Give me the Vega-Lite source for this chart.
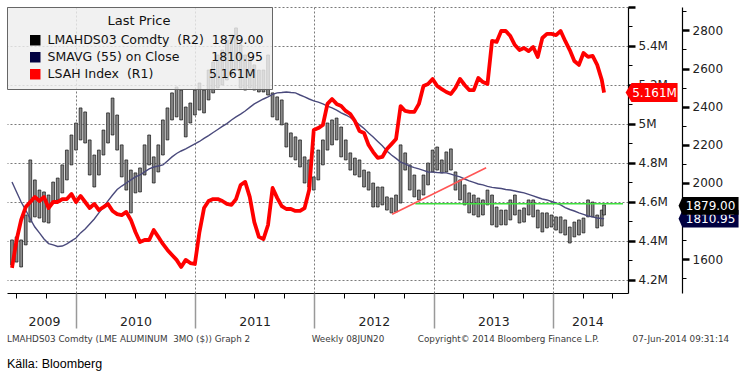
{
  "$schema": "https://vega.github.io/schema/vega-lite/v6.json",
  "width": 621,
  "height": 286,
  "autosize": {"type": "none"},
  "padding": {"left": 7, "top": 7, "right": 123, "bottom": 83},
  "background": "white",
  "config": {
    "view": {"stroke": null},
    "font": "DejaVu Sans",
    "axis": {"labelFont": "DejaVu Sans", "title": null}
  },
  "title": {
    "text": "LMAHDS03 Comdty (LME ALUMINUM\u00a0 3MO ($)) Graph 2\u00a0\u00a0\u00a0\u00a0\u00a0\u00a0\u00a0\u00a0\u00a0\u00a0\u00a0\u00a0\u00a0\u00a0\u00a0\u00a0\u00a0\u00a0\u00a0\u00a0\u00a0\u00a0Weekly 08JUN20\u00a0\u00a0\u00a0\u00a0\u00a0\u00a0\u00a0\u00a0\u00a0\u00a0\u00a0\u00a0Copyright© 2014 Bloomberg Finance L.P.\u00a0\u00a0\u00a0\u00a0\u00a0\u00a0\u00a0\u00a0\u00a0\u00a0\u00a0\u00a007-Jun-2014 09:31:14",
    "subtitle": "Källa: Bloomberg",
    "orient": "bottom",
    "anchor": "start",
    "frame": "group",
    "offset": 6,
    "font": "DejaVu Sans",
    "fontSize": 8.8,
    "fontWeight": "normal",
    "color": "#3a3a3a",
    "subtitleFont": "Liberation Sans",
    "subtitleFontSize": 12.5,
    "subtitleColor": "#000000",
    "subtitlePadding": 14
  },
  "datasets": {
    "weekly": [
      {"date": "2009-06-19", "high": 1700, "low": 1569, "sma": 2004, "lsah": 4262000},
      {"date": "2009-07-03", "high": 1716, "low": 1584, "sma": 1952, "lsah": 4405000},
      {"date": "2009-07-17", "high": 1700, "low": 1558, "sma": 1899, "lsah": 4508000},
      {"date": "2009-07-31", "high": 1831, "low": 1674, "sma": 1857, "lsah": 4574000},
      {"date": "2009-08-14", "high": 2120, "low": 1794, "sma": 1810, "lsah": 4600000},
      {"date": "2009-08-28", "high": 2015, "low": 1821, "sma": 1768, "lsah": 4626000},
      {"date": "2009-09-11", "high": 1962, "low": 1815, "sma": 1737, "lsah": 4605000},
      {"date": "2009-09-25", "high": 1952, "low": 1794, "sma": 1705, "lsah": 4626000},
      {"date": "2009-10-09", "high": 1936, "low": 1789, "sma": 1681, "lsah": 4569000},
      {"date": "2009-10-23", "high": 2004, "low": 1894, "sma": 1674, "lsah": 4600000},
      {"date": "2009-11-06", "high": 2025, "low": 1910, "sma": 1666, "lsah": 4600000},
      {"date": "2009-11-20", "high": 2094, "low": 1947, "sma": 1668, "lsah": 4615000},
      {"date": "2009-12-04", "high": 2172, "low": 2015, "sma": 1679, "lsah": 4615000},
      {"date": "2009-12-18", "high": 2251, "low": 2094, "sma": 1695, "lsah": 4641000},
      {"date": "2010-01-01", "high": 2314, "low": 2172, "sma": 1710, "lsah": 4600000},
      {"date": "2010-01-15", "high": 2393, "low": 2225, "sma": 1737, "lsah": 4631000},
      {"date": "2010-01-29", "high": 2372, "low": 2209, "sma": 1758, "lsah": 4600000},
      {"date": "2010-02-12", "high": 2225, "low": 2041, "sma": 1784, "lsah": 4569000},
      {"date": "2010-02-26", "high": 2146, "low": 1978, "sma": 1810, "lsah": 4590000},
      {"date": "2010-03-12", "high": 2172, "low": 2041, "sma": 1842, "lsah": 4559000},
      {"date": "2010-03-26", "high": 2277, "low": 2146, "sma": 1873, "lsah": 4574000},
      {"date": "2010-04-09", "high": 2367, "low": 2209, "sma": 1905, "lsah": 4590000},
      {"date": "2010-04-23", "high": 2445, "low": 2251, "sma": 1936, "lsah": 4554000},
      {"date": "2010-05-07", "high": 2356, "low": 2172, "sma": 1965, "lsah": 4538000},
      {"date": "2010-05-21", "high": 2199, "low": 2031, "sma": 1983, "lsah": 4533000},
      {"date": "2010-06-04", "high": 2120, "low": 1962, "sma": 1999, "lsah": 4549000},
      {"date": "2010-06-18", "high": 2067, "low": 1842, "sma": 2015, "lsah": 4508000},
      {"date": "2010-07-02", "high": 2052, "low": 1947, "sma": 2031, "lsah": 4446000},
      {"date": "2010-07-16", "high": 2078, "low": 1952, "sma": 2041, "lsah": 4395000},
      {"date": "2010-07-30", "high": 2199, "low": 2041, "sma": 2057, "lsah": 4405000},
      {"date": "2010-08-13", "high": 2251, "low": 2094, "sma": 2073, "lsah": 4405000},
      {"date": "2010-08-27", "high": 2136, "low": 1999, "sma": 2083, "lsah": 4456000},
      {"date": "2010-09-10", "high": 2199, "low": 2057, "sma": 2088, "lsah": 4421000},
      {"date": "2010-09-24", "high": 2330, "low": 2146, "sma": 2094, "lsah": 4385000},
      {"date": "2010-10-08", "high": 2393, "low": 2225, "sma": 2115, "lsah": 4354000},
      {"date": "2010-10-22", "high": 2472, "low": 2330, "sma": 2136, "lsah": 4328000},
      {"date": "2010-11-05", "high": 2503, "low": 2346, "sma": 2154, "lsah": 4303000},
      {"date": "2010-11-19", "high": 2487, "low": 2330, "sma": 2167, "lsah": 4267000},
      {"date": "2010-12-03", "high": 2398, "low": 2241, "sma": 2178, "lsah": 4303000},
      {"date": "2010-12-17", "high": 2419, "low": 2314, "sma": 2191, "lsah": 4287000},
      {"date": "2010-12-31", "high": 2487, "low": 2356, "sma": 2204, "lsah": 4282000},
      {"date": "2011-01-14", "high": 2524, "low": 2382, "sma": 2217, "lsah": 4446000},
      {"date": "2011-01-28", "high": 2487, "low": 2367, "sma": 2233, "lsah": 4569000},
      {"date": "2011-02-11", "high": 2592, "low": 2435, "sma": 2248, "lsah": 4605000},
      {"date": "2011-02-25", "high": 2634, "low": 2472, "sma": 2264, "lsah": 4615000},
      {"date": "2011-03-11", "high": 2671, "low": 2498, "sma": 2280, "lsah": 4615000},
      {"date": "2011-03-25", "high": 2697, "low": 2514, "sma": 2296, "lsah": 4605000},
      {"date": "2011-04-08", "high": 2750, "low": 2540, "sma": 2311, "lsah": 4590000},
      {"date": "2011-04-22", "high": 2776, "low": 2566, "sma": 2330, "lsah": 4585000},
      {"date": "2011-05-06", "high": 2813, "low": 2592, "sma": 2346, "lsah": 4615000},
      {"date": "2011-05-20", "high": 2724, "low": 2498, "sma": 2361, "lsah": 4687000},
      {"date": "2011-06-03", "high": 2671, "low": 2487, "sma": 2377, "lsah": 4703000},
      {"date": "2011-06-17", "high": 2655, "low": 2498, "sma": 2396, "lsah": 4626000},
      {"date": "2011-07-01", "high": 2619, "low": 2487, "sma": 2414, "lsah": 4497000},
      {"date": "2011-07-15", "high": 2592, "low": 2477, "sma": 2427, "lsah": 4421000},
      {"date": "2011-07-29", "high": 2592, "low": 2477, "sma": 2440, "lsah": 4410000},
      {"date": "2011-08-12", "high": 2671, "low": 2461, "sma": 2451, "lsah": 4482000},
      {"date": "2011-08-26", "high": 2472, "low": 2346, "sma": 2464, "lsah": 4672000},
      {"date": "2011-09-09", "high": 2451, "low": 2330, "sma": 2472, "lsah": 4621000},
      {"date": "2011-09-23", "high": 2435, "low": 2304, "sma": 2474, "lsah": 4579000},
      {"date": "2011-10-07", "high": 2314, "low": 2188, "sma": 2477, "lsah": 4564000},
      {"date": "2011-10-21", "high": 2262, "low": 2136, "sma": 2474, "lsah": 4564000},
      {"date": "2011-11-04", "high": 2241, "low": 2120, "sma": 2472, "lsah": 4554000},
      {"date": "2011-11-18", "high": 2225, "low": 2083, "sma": 2461, "lsah": 4554000},
      {"date": "2011-12-02", "high": 2136, "low": 1999, "sma": 2451, "lsah": 4569000},
      {"date": "2011-12-16", "high": 2120, "low": 1978, "sma": 2440, "lsah": 4662000},
      {"date": "2011-12-30", "high": 2031, "low": 1962, "sma": 2430, "lsah": 4969000},
      {"date": "2012-01-13", "high": 2172, "low": 2015, "sma": 2424, "lsah": 4979000},
      {"date": "2012-01-27", "high": 2225, "low": 2094, "sma": 2414, "lsah": 4995000},
      {"date": "2012-02-10", "high": 2314, "low": 2172, "sma": 2403, "lsah": 5103000},
      {"date": "2012-02-24", "high": 2330, "low": 2199, "sma": 2393, "lsah": 5128000},
      {"date": "2012-03-09", "high": 2340, "low": 2225, "sma": 2382, "lsah": 5103000},
      {"date": "2012-03-23", "high": 2293, "low": 2136, "sma": 2367, "lsah": 5092000},
      {"date": "2012-04-06", "high": 2225, "low": 2120, "sma": 2356, "lsah": 5067000},
      {"date": "2012-04-20", "high": 2157, "low": 2067, "sma": 2343, "lsah": 5051000},
      {"date": "2012-05-04", "high": 2130, "low": 2041, "sma": 2324, "lsah": 5015000},
      {"date": "2012-05-18", "high": 2120, "low": 2031, "sma": 2304, "lsah": 4964000},
      {"date": "2012-06-01", "high": 2067, "low": 1978, "sma": 2285, "lsah": 4954000},
      {"date": "2012-06-15", "high": 2057, "low": 1962, "sma": 2262, "lsah": 4892000},
      {"date": "2012-06-29", "high": 1999, "low": 1873, "sma": 2241, "lsah": 4856000},
      {"date": "2012-07-13", "high": 1978, "low": 1873, "sma": 2217, "lsah": 4826000},
      {"date": "2012-07-27", "high": 1978, "low": 1884, "sma": 2194, "lsah": 4831000},
      {"date": "2012-08-10", "high": 1926, "low": 1857, "sma": 2167, "lsah": 4872000},
      {"date": "2012-08-24", "high": 1920, "low": 1842, "sma": 2146, "lsah": 4897000},
      {"date": "2012-09-07", "high": 1936, "low": 1847, "sma": 2128, "lsah": 4923000},
      {"date": "2012-09-21", "high": 2199, "low": 1894, "sma": 2109, "lsah": 5092000},
      {"date": "2012-10-05", "high": 2157, "low": 2067, "sma": 2099, "lsah": 5067000},
      {"date": "2012-10-19", "high": 2094, "low": 1962, "sma": 2088, "lsah": 5062000},
      {"date": "2012-11-02", "high": 2041, "low": 1926, "sma": 2080, "lsah": 5062000},
      {"date": "2012-11-16", "high": 1962, "low": 1910, "sma": 2073, "lsah": 5103000},
      {"date": "2012-11-30", "high": 2041, "low": 1936, "sma": 2065, "lsah": 5195000},
      {"date": "2012-12-14", "high": 2104, "low": 1989, "sma": 2057, "lsah": 5205000},
      {"date": "2012-12-28", "high": 2172, "low": 2057, "sma": 2056, "lsah": 5231000},
      {"date": "2013-01-11", "high": 2188, "low": 2067, "sma": 2054, "lsah": 5195000},
      {"date": "2013-01-25", "high": 2120, "low": 2052, "sma": 2053, "lsah": 5179000},
      {"date": "2013-02-08", "high": 2162, "low": 2057, "sma": 2052, "lsah": 5164000},
      {"date": "2013-02-22", "high": 2178, "low": 2067, "sma": 2046, "lsah": 5154000},
      {"date": "2013-03-08", "high": 2057, "low": 1962, "sma": 2038, "lsah": 5185000},
      {"date": "2013-03-22", "high": 2015, "low": 1910, "sma": 2031, "lsah": 5231000},
      {"date": "2013-04-05", "high": 1989, "low": 1884, "sma": 2020, "lsah": 5200000},
      {"date": "2013-04-19", "high": 1947, "low": 1842, "sma": 2010, "lsah": 5174000},
      {"date": "2013-05-03", "high": 1936, "low": 1831, "sma": 2002, "lsah": 5174000},
      {"date": "2013-05-17", "high": 1920, "low": 1821, "sma": 1994, "lsah": 5236000},
      {"date": "2013-05-31", "high": 1910, "low": 1831, "sma": 1989, "lsah": 5215000},
      {"date": "2013-06-14", "high": 1962, "low": 1884, "sma": 1981, "lsah": 5205000},
      {"date": "2013-06-28", "high": 1936, "low": 1779, "sma": 1976, "lsah": 5426000},
      {"date": "2013-07-12", "high": 1873, "low": 1768, "sma": 1973, "lsah": 5421000},
      {"date": "2013-07-26", "high": 1857, "low": 1779, "sma": 1970, "lsah": 5477000},
      {"date": "2013-08-09", "high": 1857, "low": 1779, "sma": 1965, "lsah": 5477000},
      {"date": "2013-08-23", "high": 1910, "low": 1805, "sma": 1962, "lsah": 5451000},
      {"date": "2013-09-06", "high": 1936, "low": 1831, "sma": 1957, "lsah": 5405000},
      {"date": "2013-09-20", "high": 1857, "low": 1789, "sma": 1952, "lsah": 5379000},
      {"date": "2013-10-04", "high": 1868, "low": 1794, "sma": 1947, "lsah": 5390000},
      {"date": "2013-10-18", "high": 1910, "low": 1831, "sma": 1939, "lsah": 5374000},
      {"date": "2013-11-01", "high": 1910, "low": 1821, "sma": 1931, "lsah": 5395000},
      {"date": "2013-11-15", "high": 1857, "low": 1763, "sma": 1923, "lsah": 5344000},
      {"date": "2013-11-29", "high": 1842, "low": 1742, "sma": 1915, "lsah": 5441000},
      {"date": "2013-12-13", "high": 1842, "low": 1763, "sma": 1910, "lsah": 5462000},
      {"date": "2013-12-27", "high": 1831, "low": 1768, "sma": 1902, "lsah": 5462000},
      {"date": "2014-01-10", "high": 1821, "low": 1752, "sma": 1894, "lsah": 5456000},
      {"date": "2014-01-24", "high": 1821, "low": 1737, "sma": 1884, "lsah": 5477000},
      {"date": "2014-02-07", "high": 1805, "low": 1726, "sma": 1870, "lsah": 5426000},
      {"date": "2014-02-21", "high": 1768, "low": 1684, "sma": 1860, "lsah": 5379000},
      {"date": "2014-03-07", "high": 1794, "low": 1716, "sma": 1852, "lsah": 5323000},
      {"date": "2014-03-21", "high": 1805, "low": 1726, "sma": 1842, "lsah": 5303000},
      {"date": "2014-04-04", "high": 1815, "low": 1737, "sma": 1834, "lsah": 5364000},
      {"date": "2014-04-18", "high": 1910, "low": 1821, "sma": 1826, "lsah": 5344000},
      {"date": "2014-05-02", "high": 1899, "low": 1821, "sma": 1821, "lsah": 5349000},
      {"date": "2014-05-16", "high": 1831, "low": 1763, "sma": 1815, "lsah": 5303000},
      {"date": "2014-05-30", "high": 1857, "low": 1773, "sma": 1813, "lsah": 5226000},
      {"date": "2014-06-06", "high": 1884, "low": 1831, "sma": 1811, "lsah": 5161000}
    ],
    "last": [
      {"series": "SMAVG (55) on Close", "date": "2014-06-06", "value": 1810.95, "label": "1810.95"},
      {"series": "LMAHDS03 Comdty (R2)", "date": "2014-06-06", "value": 1879.00, "label": "1879.00"},
      {"series": "LSAH Index (R1)", "date": "2014-06-06", "value": 5161000, "label": "5.161M"}
    ],
    "support": [
      {"start": "2012-11-05", "end": "2014-08-03", "value": 1890}
    ],
    "trend": [
      {"date": "2012-08-26", "value": 1835},
      {"date": "2013-06-10", "value": 2079}
    ]
  },
  "layer": [
    {
      "data": {"name": "weekly"},
      "mark": {"type": "bar", "width": 2.8, "fill": "#8a8a8a", "stroke": "#111111", "strokeWidth": 0.7},
      "encoding": {
        "x": {
          "field": "date", "type": "temporal",
          "scale": {"domain": [{"year": 2009, "month": 6, "date": 19}, {"year": 2014, "month": 8, "date": 3}], "nice": false},
          "axis": {
            "orient": "bottom",
            "values": [
              {"year": 2009, "month": 7, "date": 1}, {"year": 2009, "month": 10, "date": 1},
              {"year": 2010, "month": 4, "date": 1}, {"year": 2010, "month": 7, "date": 1}, {"year": 2010, "month": 10, "date": 1},
              {"year": 2011, "month": 4, "date": 1}, {"year": 2011, "month": 7, "date": 1}, {"year": 2011, "month": 10, "date": 1},
              {"year": 2012, "month": 4, "date": 1}, {"year": 2012, "month": 7, "date": 1}, {"year": 2012, "month": 10, "date": 1},
              {"year": 2013, "month": 4, "date": 1}, {"year": 2013, "month": 7, "date": 1}, {"year": 2013, "month": 10, "date": 1},
              {"year": 2014, "month": 4, "date": 1}, {"year": 2014, "month": 7, "date": 1}
            ],
            "labels": false, "tickSize": 5, "tickColor": "#000000", "tickWidth": 1,
            "domain": true, "domainColor": "#000000", "domainWidth": 1.2, "grid": false, "title": null
          }
        },
        "y": {
          "field": "low", "type": "quantitative",
          "scale": {"domain": [1421.5, 2923], "nice": false, "zero": false},
          "axis": {
            "orient": "right", "offset": 54,
            "values": [1600, 1800, 2000, 2200, 2400, 2600, 2800],
            "format": "d",
            "tickSize": 7, "tickWidth": 2.5, "tickColor": "#000000",
            "domain": true, "domainColor": "#000000", "domainWidth": 1.2,
            "labelFontSize": 12, "labelPadding": 3, "labelColor": "#222222",
            "grid": false, "title": null, "zindex": 0
          }
        },
        "y2": {"field": "high"}
      }
    },
    {
      "data": {"name": "weekly"},
      "mark": {"type": "line", "color": "#4a4a7c", "strokeWidth": 1.4},
      "encoding": {
        "x": {
          "field": "date", "type": "temporal",
          "scale": {"domain": [{"year": 2009, "month": 6, "date": 19}, {"year": 2014, "month": 8, "date": 3}], "nice": false},
          "axis": {
            "orient": "bottom",
            "values": [
              {"year": 2009, "month": 9, "date": 25}, {"year": 2010, "month": 7, "date": 2},
              {"year": 2011, "month": 7, "date": 2}, {"year": 2012, "month": 7, "date": 1},
              {"year": 2013, "month": 7, "date": 2}, {"year": 2014, "month": 4, "date": 16}
            ],
            "labelExpr": "timeFormat(datum.value, '%Y')",
            "tickSize": 0, "domain": false, "labelPadding": 22, "labelFontSize": 12.5,
            "labelColor": "#222222", "labelFlush": false, "labelOverlap": false, "grid": false, "title": null
          }
        },
        "y": {
          "field": "sma", "type": "quantitative",
          "scale": {"domain": [1421.5, 2923], "nice": false, "zero": false},
          "axis": {
            "orient": "right", "offset": 54,
            "values": [1500, 1700, 1900, 2100, 2300, 2500, 2700, 2900],
            "labels": false, "tickSize": 4, "tickColor": "#000000", "domain": false, "grid": false, "title": null
          }
        }
      }
    },
    {
      "data": {"name": "support"},
      "mark": {"type": "rule", "color": "#3ee03e", "strokeWidth": 1.6},
      "encoding": {
        "x": {"field": "start", "type": "temporal", "scale": {"domain": [{"year": 2009, "month": 6, "date": 19}, {"year": 2014, "month": 8, "date": 3}], "nice": false}, "axis": null},
        "x2": {"field": "end"},
        "y": {"field": "value", "type": "quantitative", "scale": {"domain": [1421.5, 2923], "nice": false, "zero": false}, "axis": null}
      }
    },
    {
      "data": {"name": "trend"},
      "mark": {"type": "line", "color": "#ff5555", "strokeWidth": 1.5},
      "encoding": {
        "x": {"field": "date", "type": "temporal", "scale": {"domain": [{"year": 2009, "month": 6, "date": 19}, {"year": 2014, "month": 8, "date": 3}], "nice": false}, "axis": null},
        "y": {"field": "value", "type": "quantitative", "scale": {"domain": [1421.5, 2923], "nice": false, "zero": false}, "axis": null}
      }
    },
    {
      "data": {"name": "weekly"},
      "mark": {"type": "line", "color": "#ff0000", "strokeWidth": 3.8, "strokeJoin": "round"},
      "encoding": {
        "x": {
          "field": "date", "type": "temporal",
          "scale": {"domain": [{"year": 2009, "month": 6, "date": 19}, {"year": 2014, "month": 8, "date": 3}], "nice": false},
          "axis": {
            "orient": "bottom",
            "values": [
              {"year": 2010, "month": 1, "date": 1}, {"year": 2011, "month": 1, "date": 1},
              {"year": 2012, "month": 1, "date": 1}, {"year": 2013, "month": 1, "date": 1},
              {"year": 2014, "month": 1, "date": 1}
            ],
            "labels": false, "tickSize": 35, "tickColor": "#999999", "tickWidth": 1.5,
            "domain": false, "grid": true, "gridDash": [2, 2], "gridColor": "#7a7a7a", "gridWidth": 1, "title": null
          }
        },
        "y": {
          "field": "lsah", "type": "quantitative",
          "scale": {"domain": [4133300, 5600000], "nice": false, "zero": false},
          "axis": {
            "orient": "right", "offset": 0,
            "values": [4200000, 4400000, 4600000, 4800000, 5000000, 5200000, 5400000, 5600000],
            "labelExpr": "datum.value > 5500000 ? '' : format(datum.value / 1000000, '.1~f') + 'M'",
            "tickSize": 7, "tickWidth": 2.5, "tickColor": "#000000",
            "domain": true, "domainColor": "#000000", "domainWidth": 1.2,
            "labelFontSize": 12, "labelPadding": 3, "labelColor": "#222222",
            "grid": true, "gridDash": [2, 2], "gridColor": "#7a7a7a", "gridWidth": 1, "title": null, "zindex": 0
          }
        }
      }
    },
    {
      "data": {"name": "last"},
      "transform": [{"filter": "datum.series == 'LSAH Index (R1)'"}],
      "mark": {"type": "point", "filled": true, "opacity": 1, "strokeWidth": 0, "size": 2704, "xOffset": 47.5,
               "shape": "M -1 0 L -0.77 -0.365 L 1 -0.365 L 1 0.365 L -0.77 0.365 Z"},
      "encoding": {
        "x": {"field": "date", "type": "temporal", "scale": {"domain": [{"year": 2009, "month": 6, "date": 19}, {"year": 2014, "month": 8, "date": 3}], "nice": false}, "axis": null},
        "y": {
          "field": "value", "type": "quantitative",
          "scale": {"domain": [4133300, 5600000], "nice": false, "zero": false},
          "axis": {
            "orient": "right", "offset": 0,
            "values": [4300000, 4500000, 4700000, 4900000, 5100000, 5300000, 5500000],
            "labels": false, "tickSize": 4, "tickColor": "#000000", "domain": false, "grid": false, "title": null, "zindex": 0
          }
        },
        "fill": {
          "field": "series", "type": "nominal",
          "scale": {"domain": ["LMAHDS03 Comdty (R2)", "SMAVG (55) on Close", "LSAH Index (R1)"], "range": ["#000000", "#000040", "#ff0000"]},
          "legend": {
            "title": "Last Price", "orient": "top-left", "offset": 0,
            "titleAnchor": "middle", "titleFontSize": 13, "titleFontWeight": "normal", "titleColor": "#111111", "titleFont": "DejaVu Sans", "titlePadding": 6,
            "labelFont": "DejaVu Sans", "labelFontSize": 12.5, "labelColor": "#111111", "labelLimit": 400, "labelOffset": 6,
            "labelExpr": "datum.label == 'LMAHDS03 Comdty (R2)' ? 'LMAHDS03 Comdty\u00a0 (R2)\u00a0\u00a01879.00' : datum.label == 'SMAVG (55) on Close' ? 'SMAVG (55) on Close\u00a0\u00a0\u00a0\u00a0\u00a0\u00a0\u00a0\u00a01810.95' : 'LSAH Index\u00a0 (R1)\u00a0\u00a0\u00a0\u00a0\u00a0\u00a0\u00a0\u00a0\u00a0\u00a0\u00a0\u00a0\u00a0\u00a05.161M'",
            "symbolType": "square", "symbolSize": 110, "symbolStrokeWidth": 0, "symbolOffset": 14,
            "rowPadding": 4, "padding": 8,
            "fillColor": "rgba(238,238,238,0.82)", "strokeColor": "#666666"
          }
        }
      }
    },
    {
      "data": {"name": "last"},
      "transform": [{"filter": "datum.series == 'LSAH Index (R1)'"}],
      "mark": {"type": "text", "color": "#ffffff", "fontSize": 12, "font": "DejaVu Sans", "align": "center", "baseline": "middle", "dx": 50.5},
      "encoding": {
        "x": {"field": "date", "type": "temporal", "scale": {"domain": [{"year": 2009, "month": 6, "date": 19}, {"year": 2014, "month": 8, "date": 3}], "nice": false}, "axis": null},
        "y": {"field": "value", "type": "quantitative", "scale": {"domain": [4133300, 5600000], "nice": false, "zero": false}, "axis": null},
        "text": {"field": "label"}
      }
    },
    {
      "data": {"name": "last"},
      "transform": [{"filter": "datum.series == 'SMAVG (55) on Close'"}],
      "mark": {"type": "point", "filled": true, "opacity": 1, "strokeWidth": 0, "size": 3600, "xOffset": 104.5,
               "shape": "M -1 0 L -0.87 -0.293 L 1 -0.293 L 1 0.293 L -0.87 0.293 Z"},
      "encoding": {
        "x": {"field": "date", "type": "temporal", "scale": {"domain": [{"year": 2009, "month": 6, "date": 19}, {"year": 2014, "month": 8, "date": 3}], "nice": false}, "axis": null},
        "y": {"field": "value", "type": "quantitative", "scale": {"domain": [1421.5, 2923], "nice": false, "zero": false}, "axis": null},
        "fill": {"field": "series", "type": "nominal", "scale": {"domain": ["LMAHDS03 Comdty (R2)", "SMAVG (55) on Close", "LSAH Index (R1)"], "range": ["#000000", "#000040", "#ff0000"]}}
      }
    },
    {
      "data": {"name": "last"},
      "transform": [{"filter": "datum.series == 'SMAVG (55) on Close'"}],
      "mark": {"type": "text", "color": "#ffffff", "fontSize": 12, "font": "DejaVu Sans", "align": "center", "baseline": "middle", "dx": 106.5},
      "encoding": {
        "x": {"field": "date", "type": "temporal", "scale": {"domain": [{"year": 2009, "month": 6, "date": 19}, {"year": 2014, "month": 8, "date": 3}], "nice": false}, "axis": null},
        "y": {"field": "value", "type": "quantitative", "scale": {"domain": [1421.5, 2923], "nice": false, "zero": false}, "axis": null},
        "text": {"field": "label"}
      }
    },
    {
      "data": {"name": "last"},
      "transform": [{"filter": "datum.series == 'LMAHDS03 Comdty (R2)'"}],
      "mark": {"type": "point", "filled": true, "opacity": 1, "strokeWidth": 0, "size": 3600, "xOffset": 104.5,
               "shape": "M -1 0 L -0.87 -0.293 L 1 -0.293 L 1 0.293 L -0.87 0.293 Z"},
      "encoding": {
        "x": {"field": "date", "type": "temporal", "scale": {"domain": [{"year": 2009, "month": 6, "date": 19}, {"year": 2014, "month": 8, "date": 3}], "nice": false}, "axis": null},
        "y": {"field": "value", "type": "quantitative", "scale": {"domain": [1421.5, 2923], "nice": false, "zero": false}, "axis": null},
        "fill": {"field": "series", "type": "nominal", "scale": {"domain": ["LMAHDS03 Comdty (R2)", "SMAVG (55) on Close", "LSAH Index (R1)"], "range": ["#000000", "#000040", "#ff0000"]}}
      }
    },
    {
      "data": {"name": "last"},
      "transform": [{"filter": "datum.series == 'LMAHDS03 Comdty (R2)'"}],
      "mark": {"type": "text", "color": "#ffffff", "fontSize": 12, "font": "DejaVu Sans", "align": "center", "baseline": "middle", "dx": 106.5},
      "encoding": {
        "x": {"field": "date", "type": "temporal", "scale": {"domain": [{"year": 2009, "month": 6, "date": 19}, {"year": 2014, "month": 8, "date": 3}], "nice": false}, "axis": null},
        "y": {"field": "value", "type": "quantitative", "scale": {"domain": [1421.5, 2923], "nice": false, "zero": false}, "axis": null},
        "text": {"field": "label"}
      }
    }
  ],
  "resolve": {"scale": {"y": "independent"}, "axis": {"x": "independent", "y": "independent"}}
}
